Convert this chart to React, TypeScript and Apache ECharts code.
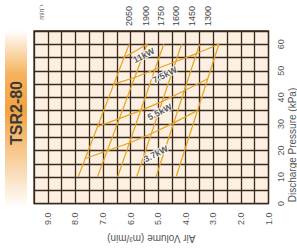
import React, { useEffect, useRef } from "react";
import * as echarts from "echarts";

// Speed lines (min-1): air volume (m3/min) at 10 kPa and at 60 kPa
const speedRpm = [2050, 1900, 1750, 1600, 1450, 1300];
const speedPressure = [10, 60];
const volAt10 = [7.9, 7.2, 6.47, 5.78, 5.08, 4.35];
const volAt60 = [6.05, 5.4, 4.8, 4.15, 3.5, 2.8];

// Motor power limit lines: [volume, pressure]
const line37 = [[7.64, 17], [6.82, 20], [6.0, 23], [5.21, 26.5], [4.42, 30.5], [3.58, 35]];
const line55 = [[7.2, 29], [6.41, 32], [5.64, 35], [4.85, 38.5], [4.05, 42.5], [3.2, 47]];
const line75 = [[6.61, 45], [5.85, 47.5], [5.12, 50.5], [4.36, 53.5], [3.61, 56.5], [2.8, 60]];
const line11 = [[6.24, 55], [5.4, 60]];
const powerNames = ["3.7kW", "5.5kW", "7.5kW", "11kW"];
const powerLabelPos = [[5.08, 18.7], [4.94, 34.5], [4.76, 48.5], [5.52, 55.8]];

const xTicksMin = 1;
const xTicksMax = 9.5;
const yTicksMin = 0;
const yTicksMax = 65;

const FONT = "'Liberation Sans', Arial, sans-serif";
const LINE_COLOR = "#e6a21c";
const GRID_COLOR = "#3a2a1c";

export default function App() {
  const ref = useRef<HTMLDivElement>(null);
  useEffect(() => {
    if (!ref.current) return;
    const chart = echarts.init(ref.current, undefined, { renderer: "svg" });
    const series: any[] = [];
    speedRpm.forEach((rpm, i) => {
      series.push({
        type: "line",
        name: String(rpm),
        data: [
          [volAt10[i], speedPressure[0]],
          [volAt60[i], speedPressure[1]],
        ],
        symbol: "none",
        lineStyle: { color: LINE_COLOR, width: 1.2 },
        z: 3,
      });
    });
    [line37, line55, line75, line11].forEach((d, i) => {
      series.push({
        type: "line",
        name: powerNames[i],
        data: d,
        symbol: "none",
        lineStyle: { color: LINE_COLOR, width: 1.2 },
        z: 3,
      });
    });
    series.push({
      type: "scatter",
      symbolSize: 0,
      data: powerLabelPos.map((p, i) => ({ value: p, name: powerNames[i] })),
      label: {
        show: true,
        position: "inside",
        rotate: 27,
        formatter: (p: any) => p.name,
        fontFamily: FONT,
        fontWeight: "bold",
        fontSize: 9,
        color: "#333",
        textBorderColor: "#fff",
        textBorderWidth: 2,
      },
      z: 5,
    });

    const rpmX = [129, 146, 161, 176, 192, 208];
    const graphics: any[] = [
      {
        type: "rect",
        shape: { x: 5, y: 30, width: 22, height: 178 },
        style: {
          fill: new echarts.graphic.LinearGradient(0, 0, 0, 1, [
            { offset: 0, color: "#ffffff" },
            { offset: 0.25, color: "#f6b25c" },
            { offset: 0.45, color: "#f3a23e" },
            { offset: 0.75, color: "#f9d3a4" },
            { offset: 1, color: "#ffffff" },
          ]),
        },
        z: 0,
      },
      {
        type: "text",
        x: 16,
        y: 113,
        rotation: Math.PI / 2,
        style: {
          text: "TSR2-80",
          font: `bold 16px ${FONT}`,
          fill: "#3a3a3a",
          textAlign: "center",
          textVerticalAlign: "middle",
        },
        z: 2,
      },
      {
        type: "text",
        x: 41,
        y: 12,
        rotation: Math.PI / 2,
        style: {
          text: "min⁻¹",
          font: `7px ${FONT}`,
          fill: "#666",
          textAlign: "center",
          textVerticalAlign: "middle",
        },
      },
      {
        type: "text",
        x: 292,
        y: 145,
        rotation: Math.PI / 2,
        style: {
          text: "Discharge Pressure (kPa)",
          font: `10px ${FONT}`,
          fill: "#555",
          textAlign: "center",
          textVerticalAlign: "middle",
        },
      },
      ...speedRpm.map((rpm, i) => ({
        type: "text",
        x: rpmX[i],
        y: 16,
        rotation: Math.PI / 2,
        style: {
          text: String(rpm),
          font: `9px ${FONT}`,
          fill: "#444",
          textAlign: "center",
          textVerticalAlign: "middle",
        },
      })),
    ];

    chart.setOption({
      animation: false,
      grid: {
        left: 34,
        right: 28.5,
        top: 31,
        bottom: 40,
        show: true,
        backgroundColor: "#fdf0e3",
        borderColor: GRID_COLOR,
        borderWidth: 1.3,
      },
      xAxis: {
        type: "value",
        inverse: true,
        min: xTicksMin,
        max: xTicksMax,
        interval: 0.5,
        name: "Air Volume (m³/min)",
        nameLocation: "middle",
        nameRotate: 180,
        nameGap: 25,
        nameTextStyle: { fontFamily: FONT, fontSize: 10, color: "#555" },
        axisLine: { show: false },
        axisTick: { show: false },
        splitLine: { show: true, lineStyle: { color: GRID_COLOR, width: 1.3 } },
        axisLabel: {
          rotate: 90,
          margin: 9,
          fontFamily: FONT,
          fontSize: 9,
          color: "#555",
          showMaxLabel: false,
          formatter: (v: number) => (Math.abs(v - Math.round(v)) < 1e-6 ? v.toFixed(1) : ""),
        },
      },
      yAxis: {
        type: "value",
        position: "right",
        min: yTicksMin,
        max: yTicksMax,
        interval: 5,
        axisLine: { show: false },
        axisTick: { show: false },
        splitLine: { show: true, lineStyle: { color: GRID_COLOR, width: 1.3 } },
        axisLabel: {
          rotate: 90,
          margin: 8,
          fontFamily: FONT,
          fontSize: 9,
          color: "#555",
          formatter: (v: number) => (v % 10 === 0 ? String(v) : ""),
        },
      },
      graphic: graphics,
      series,
    });
    return () => chart.dispose();
  }, []);
  return <div ref={ref} style={{ width: 297, height: 248, position: "absolute", left: 0, top: 0, background: "#fff" }} />;
}
